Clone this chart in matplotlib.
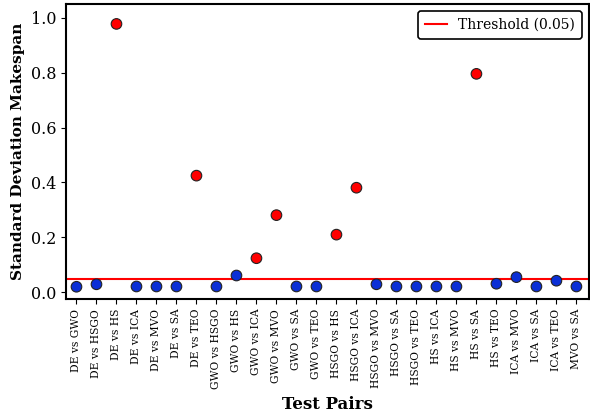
import matplotlib
matplotlib.use("Agg")
import matplotlib.pyplot as plt

pairs = ["DE vs GWO", "DE vs HSGO", "DE vs HS", "DE vs ICA", "DE vs MVO",
         "DE vs SA", "DE vs TEO", "GWO vs HSGO", "GWO vs HS", "GWO vs ICA",
         "GWO vs MVO", "GWO vs SA", "GWO vs TEO", "HSGO vs HS", "HSGO vs ICA",
         "HSGO vs MVO", "HSGO vs SA", "HSGO vs TEO", "HS vs ICA", "HS vs MVO",
         "HS vs SA", "HS vs TEO", "ICA vs MVO", "ICA vs SA", "ICA vs TEO",
         "MVO vs SA"]
std_makespan = [0.020, 0.029, 0.978, 0.021, 0.021,
                0.021, 0.425, 0.021, 0.061, 0.124,
                0.281, 0.021, 0.021, 0.210, 0.381,
                0.029, 0.021, 0.021, 0.021, 0.021,
                0.796, 0.031, 0.055, 0.021, 0.042,
                0.021]
# pairs flagged as exceeding the threshold
flagged = [False, False, True, False, False,
           False, True, False, False, True,
           True, False, False, True, True,
           False, False, False, False, False,
           True, False, False, False, False,
           False]
threshold = 0.05

plt.rcParams['font.family'] = 'DejaVu Serif'

fig, ax = plt.subplots(figsize=(5.9, 4.16), dpi=100)
fig.subplots_adjust(left=0.112, right=0.998, top=0.99, bottom=0.281)

x = list(range(len(pairs)))
colors = ['red' if f else '#0b2fd6' for f in flagged]
ax.scatter(x, std_makespan, c=colors, s=58, edgecolors='#222222', linewidths=0.8, zorder=3)
ax.axhline(threshold, color='red', lw=1.5, label='Threshold (0.05)', zorder=2)

ax.set_xticks(x)
ax.set_xticklabels(pairs, rotation=90, fontsize=7.7)
ax.tick_params(axis='y', labelsize=11.5)
ax.set_xlim(-0.52, len(pairs) - 0.38)
ax.set_ylim(-0.025, 1.05)
ax.set_xlabel('Test Pairs', fontsize=12, fontweight='bold', labelpad=5)
ax.set_ylabel('Standard Deviation Makespan', fontsize=11, fontweight='bold')
for s in ax.spines.values():
    s.set_linewidth(1.5)

leg = ax.legend(loc='upper right', fontsize=10, edgecolor='black', framealpha=1,
                handlelength=1.6, borderpad=0.5)
leg.get_frame().set_linewidth(1.2)

fig.savefig('out.png')
